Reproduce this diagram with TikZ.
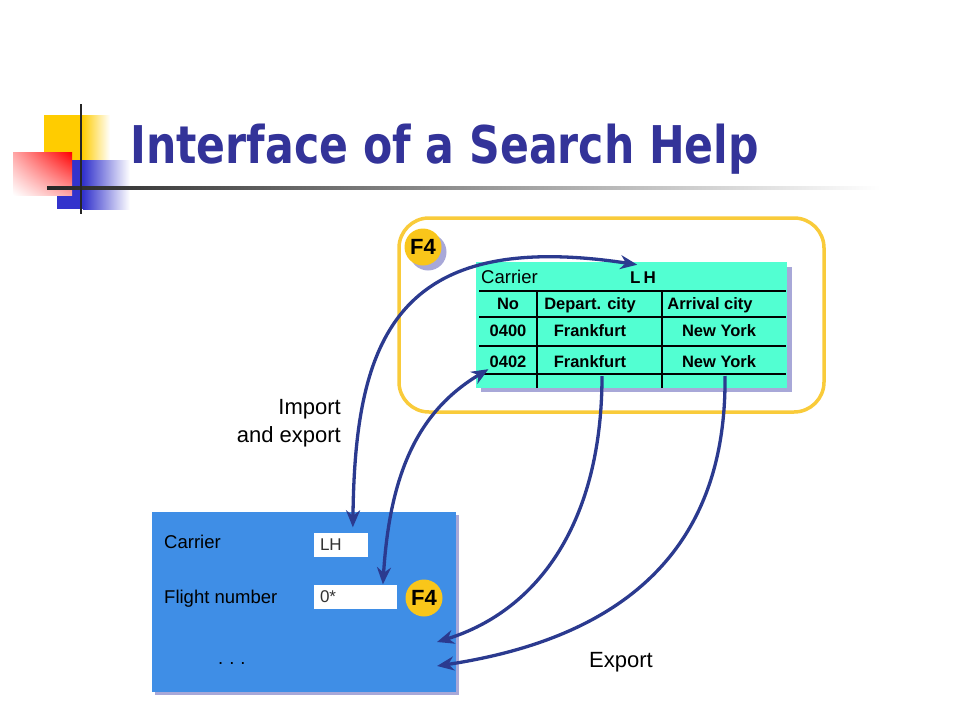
\documentclass[tikz,border=0pt]{standalone}
\usepackage{fontspec}
\setmainfont{Liberation Sans}
\newfontfamily\titlefont[FakeStretch=0.82]{DejaVu Sans}
\usetikzlibrary{arrows.meta,shadings}
\definecolor{titleblue}{HTML}{333399}
\definecolor{logoyellow}{HTML}{FFCC00}
\definecolor{logoblue}{HTML}{3333CC}
\definecolor{frameyellow}{HTML}{F9CB3A}
\definecolor{keyyellow}{HTML}{F9C61A}
\definecolor{tablecyan}{HTML}{52FFD2}
\definecolor{formblue}{HTML}{3F8EE6}
\definecolor{shadowblue}{HTML}{A8A8D8}
\definecolor{arrowblue}{HTML}{2B3A8F}
\newcommand\fsz[1]{\fontsize{#1}{#1}\selectfont}
\begin{document}
\begin{tikzpicture}[x=1pt,y=-1pt,
    txt/.style={inner sep=1pt, text depth=0pt},
    cell/.style={txt, text height=11.9pt, font=\bfseries\fsz{16.5}},
    note/.style={txt, text height=15.8pt, font=\fsz{22}},
    formtext/.style={txt, text height=13.3pt, anchor=west, font=\fsz{18.5}},
    field/.style={fill=white, inner xsep=6pt, inner ysep=0pt, minimum height=24pt,
      align=left, text height=12.2pt, text depth=0pt, font=\fsz{17}, text=black!80},
    fkey/.style={circle, fill=keyyellow, minimum size=37pt, inner sep=0pt,
      font=\bfseries\fsz{22}},
    grid/.style={line width=2.4pt},
    flow/.style={draw=arrowblue, line width=3.3pt,
      {Stealth[length=17pt,width=14pt]}-{Stealth[length=17pt,width=14pt]}},
    export/.style={draw=arrowblue, line width=3.3pt, -{Stealth[length=17pt,width=14pt]}}]
  \useasboundingbox (0,0) rectangle (960,720);
  % logo and title
  \fill[logoyellow] (44,115) rectangle (82,160);
  \shade[left color=logoyellow, right color=white] (82,115) rectangle (110,160);
  \fill[logoblue] (57,160) rectangle (83,209);
  \shade[left color=logoblue, right color=white] (83,160) rectangle (130,209);
  \shade[upper right=red, upper left=red!35, lower right=red!35, lower left=white]
    (13,152) rectangle (72,195);
  \shade[left color=black!85, right color=white] (47,186.5) rectangle (880,189.5);
  \fill[black!85] (79.7,104) rectangle (82.3,214);
  \node[anchor=base west, inner sep=0pt, text=titleblue,
    font=\titlefont\bfseries\fsz{52}] (title) at (130,163) {Interface of a Search Help};
  % search help window
  \draw[frameyellow, line width=3.5pt, rounded corners=30pt] (399,218) rectangle (824,412);
  \fill[shadowblue] (428,252) circle (18.5);
  \node[fkey] (key) at (423,247) {F4};
  \fill[shadowblue] (481,267) rectangle (792,392);
  \fill[tablecyan] (476,262) rectangle (787,388);
  \foreach \y in {291,317,346,374}
    \draw[grid] (479,\y) -- (786,\y);
  \foreach \x in {537,662}
    \draw[grid] (\x,291) -- (\x,388);
  \path
    (480,277) node[txt, text height=13.3pt, anchor=west, font=\fsz{18.5}] (tcar) {Carrier}
    (643,277) node[txt, inner ysep=6pt, text height=12.2pt, font=\bfseries\fsz{17}] (tlh)
      {L\hspace{3pt}H}
    (508,304) node[cell] (hno) {No}
    (590,304) node[cell] (hdep) {Depart. city}
    (710,304) node[cell] (harr) {Arrival city}
    (508,331) node[cell] (r1no) {0400}
    (590,331) node[cell] (r1dep) {Frankfurt}
    (719,331) node[cell] (r1arr) {New York}
    (508,362) node[cell] (r2no) {0402}
    (590,362) node[cell] (r2dep) {Frankfurt}
    (719,362) node[cell] (r2arr) {New York};
  \coordinate (dep) at (602,376);
  \coordinate (arr) at (725,376);
  % screen
  \fill[shadowblue] (155,515) rectangle (459,695);
  \fill[formblue] (152,512) rectangle (456,692);
  \node[formtext] (fcar) at (163,542) {Carrier};
  \node[formtext] (fnum) at (163,597) {Flight number};
  \node[field, text width=42pt] (lhfield) at (341,544.5) {LH};
  \node[field, text width=71pt] (nofield) at (355.5,596.5) {0*};
  \node[fkey] (key2) at (424,598) {F4};
  \node[formtext] (dots) at (217,658) {.\hspace{6pt}.\hspace{6pt}.};
  \coordinate (in1) at (437,642);
  \coordinate (in2) at (437,666);
  % labels
  \node[note, anchor=east, align=right] (imex) at (342,435)
    {Import\\[6pt]and export};
  \node[note] (exp) at (621,660) {Export};
  % data flow
  \draw[flow, shorten <=5pt] (lhfield.46)
    .. controls (355,340) and (395,228) .. (tlh.115);
  \draw[flow] (nofield.24) .. controls (390,470) and (420,410) .. (r2no.south west);
  \draw[export] (dep) .. controls (602,520) and (540,610) .. (in1);
  \draw[export] (arr) .. controls (727,560) and (610,640) .. (in2);
\end{tikzpicture}
\end{document}
